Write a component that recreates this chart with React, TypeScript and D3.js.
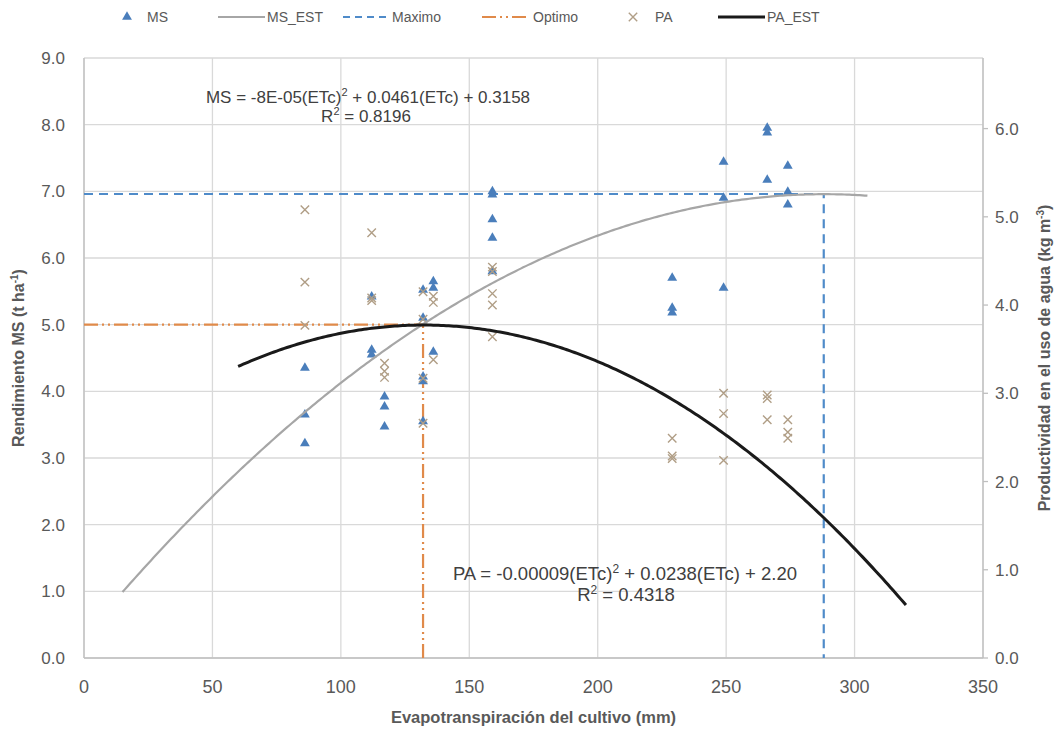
import * as d3 from 'd3';
import React from 'react';

// ETc (mm) of each plot, MS (t/ha)
const msX = [86, 86, 86, 112, 112, 112, 117, 117, 117, 132, 132, 132, 132, 132, 136, 136, 136,
  159, 159, 159, 159, 159, 229, 229, 229, 249, 249, 249, 266, 266, 266, 274, 274, 274];
const msY = [4.35, 3.65, 3.22, 5.42, 4.62, 4.55, 3.92, 3.77, 3.47, 5.52, 5.10, 4.22, 4.15, 3.55, 5.65, 5.55, 4.59,
  7.00, 6.95, 6.58, 6.30, 5.80, 5.70, 5.25, 5.18, 7.44, 6.90, 5.55, 7.95, 7.88, 7.17, 7.38, 6.99, 6.80];

// PA (kg/m3), right axis
const paX = [86, 86, 86, 112, 112, 112, 117, 117, 117, 132, 132, 132, 132, 136, 136, 136,
  159, 159, 159, 159, 159, 229, 229, 229, 249, 249, 249, 266, 266, 266, 274, 274, 274];
const paY = [5.08, 4.26, 3.77, 4.82, 4.08, 4.05, 3.34, 3.25, 3.18, 4.15, 3.84, 3.17, 2.66, 4.10, 4.03, 3.38,
  4.43, 4.38, 4.13, 4.00, 3.64, 2.49, 2.29, 2.26, 3.00, 2.77, 2.24, 2.98, 2.94, 2.70, 2.70, 2.56, 2.49];

// trendline coefficients as printed on the chart [a, b, c] and drawn range
const msCoef = [-0.00008, 0.0461, 0.3158];
const msRange = [15, 305];
const paCoef = [-0.00009, 0.0238, 2.2];
const paRange = [60, 320];

const maximo = [288, 6.96]; // ETc, MS
const optimo = [132, 5.0];

const xTicks = [0, 50, 100, 150, 200, 250, 300, 350];
const yTicks = [0, 1, 2, 3, 4, 5, 6, 7, 8, 9];
const y2Ticks = [0, 1, 2, 3, 4, 5, 6];

const W = 1060, H = 734;
const L = 84, R = 983, T = 58, B = 658;
const font = 'Liberation Sans, Arial, sans-serif';
const txt = '#595959';

export default function App() {
  const x = d3.scaleLinear().domain([0, 350]).range([L, R]);
  const y = d3.scaleLinear().domain([0, 9]).range([B, T]);
  const y2 = d3.scaleLinear().domain([0, 6.8]).range([B, T]);

  const quad = (c: number[]) => (e: number) => c[0] * e * e + c[1] * e + c[2];
  const msF = quad(msCoef), paF = quad(paCoef);
  const msCurve = d3.range(msRange[0], msRange[1] + 0.1, 1).map(e => [e, msF(e)]);
  const paCurve = d3.range(paRange[0], paRange[1] + 0.1, 1).map(e => [e, paF(e)]);
  const msLine = d3.line<number[]>().x(d => x(d[0])).y(d => y(d[1]));
  const paLine = d3.line<number[]>().x(d => x(d[0])).y(d => y2(d[1]));

  const tri = d3.symbol(d3.symbolTriangle, 42)()!;
  const cross = d3.symbol(d3.symbolX, 48)()!;

  const blue = '#4A7EBB';
  const paCol = '#B09E86';
  const optCol = '#E08A4A';
  const optDash = '14,4,2,4,2,4';

  const legY = 17;
  const legend = [
    { x: 127, kind: 'tri', label: 'MS', lx: 147 },
    { x: 218, kind: 'ms', label: 'MS_EST', lx: 267 },
    { x: 343, kind: 'max', label: 'Maximo', lx: 392 },
    { x: 482, kind: 'opt', label: 'Optimo', lx: 533 },
    { x: 633, kind: 'x', label: 'PA', lx: 655 },
    { x: 718, kind: 'pa', label: 'PA_EST', lx: 767 },
  ];

  return (
    <svg width={W} height={H} style={{ position: 'absolute', left: 0, top: 0, background: '#fff' }}
      fontFamily={font}>
      {/* gridlines */}
      {yTicks.map(t => (
        <line key={'gy' + t} x1={L} x2={R} y1={y(t)} y2={y(t)} stroke="#D9D9D9" strokeWidth={1.3} />
      ))}
      {xTicks.map(t => (
        <line key={'gx' + t} x1={x(t)} x2={x(t)} y1={T} y2={B} stroke="#D9D9D9" strokeWidth={1.3} />
      ))}
      {/* axes */}
      <line x1={L} x2={L} y1={T} y2={B} stroke="#BFBFBF" strokeWidth={1.3} />
      <line x1={L} x2={R} y1={B} y2={B} stroke="#BFBFBF" strokeWidth={1.3} />
      <line x1={R} x2={R} y1={T} y2={B} stroke="#BFBFBF" strokeWidth={1.3} />
      {y2Ticks.map(t => (
        <line key={'t2' + t} x1={R} x2={R + 5} y1={y2(t)} y2={y2(t)} stroke="#BFBFBF" strokeWidth={1.3} />
      ))}

      {/* tick labels */}
      {xTicks.map(t => (
        <text key={'xl' + t} x={x(t)} y={693} textAnchor="middle" fontSize={18} fill={txt}>{t}</text>
      ))}
      {yTicks.map(t => (
        <text key={'yl' + t} x={65} y={y(t) + 6} textAnchor="end" fontSize={17} fill={txt}>{t.toFixed(1)}</text>
      ))}
      {y2Ticks.map(t => (
        <text key={'y2l' + t} x={995} y={y2(t) + 6} textAnchor="start" fontSize={17} fill={txt}>{t.toFixed(1)}</text>
      ))}

      {/* axis titles */}
      <text x={x(175)} y={723} textAnchor="middle" fontSize={16.5} fontWeight="bold" fill={txt}>
        Evapotranspiración del cultivo (mm)
      </text>
      <text transform={`translate(24,${(T + B) / 2}) rotate(-90)`} textAnchor="middle" fontSize={16}
        fontWeight="bold" fill={txt}>
        Rendimiento MS (t ha<tspan dy={-6} fontSize={10}>-1</tspan><tspan dy={6}>)</tspan>
      </text>
      <text transform={`translate(1050,${(T + B) / 2}) rotate(-90)`} textAnchor="middle" fontSize={16}
        fontWeight="bold" fill={txt}>
        Productividad en el uso de agua (kg m<tspan dy={-6} fontSize={10}>-3</tspan><tspan dy={6}>)</tspan>
      </text>

      {/* Maximo */}
      <path d={`M${x(0)},${y(maximo[1])}H${x(maximo[0])}V${y(0)}`} fill="none" stroke="#4F8BC9"
        strokeWidth={2.2} strokeDasharray="9,6" />
      {/* Optimo */}
      <path d={`M${x(0)},${y(optimo[1])}H${x(optimo[0])}`} fill="none" stroke={optCol}
        strokeWidth={2.2} strokeDasharray={optDash} />
      <path d={`M${x(optimo[0])},${y(0)}V${y(optimo[1])}`} fill="none" stroke={optCol}
        strokeWidth={2.2} strokeDasharray={optDash} />

      {/* MS points */}
      {msX.map((e, i) => (
        <path key={'ms' + i} d={tri} transform={`translate(${x(e)},${y(msY[i])})`} fill={blue} />
      ))}
      {/* PA points */}
      {paX.map((e, i) => (
        <path key={'pa' + i} d={cross} transform={`translate(${x(e)},${y2(paY[i])})`} fill="none"
          stroke={paCol} strokeWidth={1.4} />
      ))}

      {/* trendlines */}
      <path d={msLine(msCurve)!} fill="none" stroke="#A6A6A6" strokeWidth={2.2} />
      <path d={paLine(paCurve)!} fill="none" stroke="#1A1A1A" strokeWidth={3} />

      {/* equations */}
      <text x={368} y={103} textAnchor="middle" fontSize={17} fill="#404040">
        MS = -8E-05(ETc)<tspan dy={-7} fontSize={11}>2</tspan><tspan dy={7}> + 0.0461(ETc) + 0.3158</tspan>
      </text>
      <text x={366} y={122} textAnchor="middle" fontSize={17} fill="#404040">
        R<tspan dy={-7} fontSize={11}>2</tspan><tspan dy={7}> = 0.8196</tspan>
      </text>
      <text x={625} y={580} textAnchor="middle" fontSize={18.5} fill="#404040">
        PA = -0.00009(ETc)<tspan dy={-7} fontSize={12}>2</tspan><tspan dy={7}> + 0.0238(ETc) + 2.20</tspan>
      </text>
      <text x={626} y={601} textAnchor="middle" fontSize={18.5} fill="#404040">
        R<tspan dy={-7} fontSize={12}>2</tspan><tspan dy={7}> = 0.4318</tspan>
      </text>

      {/* legend */}
      {legend.map(l => (
        <g key={l.label}>
          {l.kind === 'tri' && <path d={tri} transform={`translate(${l.x},${legY})`} fill={blue} />}
          {l.kind === 'x' && <path d={cross} transform={`translate(${l.x},${legY})`} fill="none"
            stroke={paCol} strokeWidth={1.4} />}
          {l.kind === 'ms' && <line x1={l.x} x2={l.x + 47} y1={legY} y2={legY} stroke="#A6A6A6" strokeWidth={2.2} />}
          {l.kind === 'max' && <line x1={l.x} x2={l.x + 47} y1={legY} y2={legY} stroke="#4F8BC9" strokeWidth={2.2}
            strokeDasharray="7,5" />}
          {l.kind === 'opt' && <line x1={l.x} x2={l.x + 47} y1={legY} y2={legY} stroke={optCol} strokeWidth={2.2}
            strokeDasharray={optDash} />}
          {l.kind === 'pa' && <line x1={l.x} x2={l.x + 47} y1={legY} y2={legY} stroke="#1A1A1A" strokeWidth={3} />}
          <text x={l.lx} y={legY + 5} fontSize={14} fill={txt}>{l.label}</text>
        </g>
      ))}
    </svg>
  );
}
